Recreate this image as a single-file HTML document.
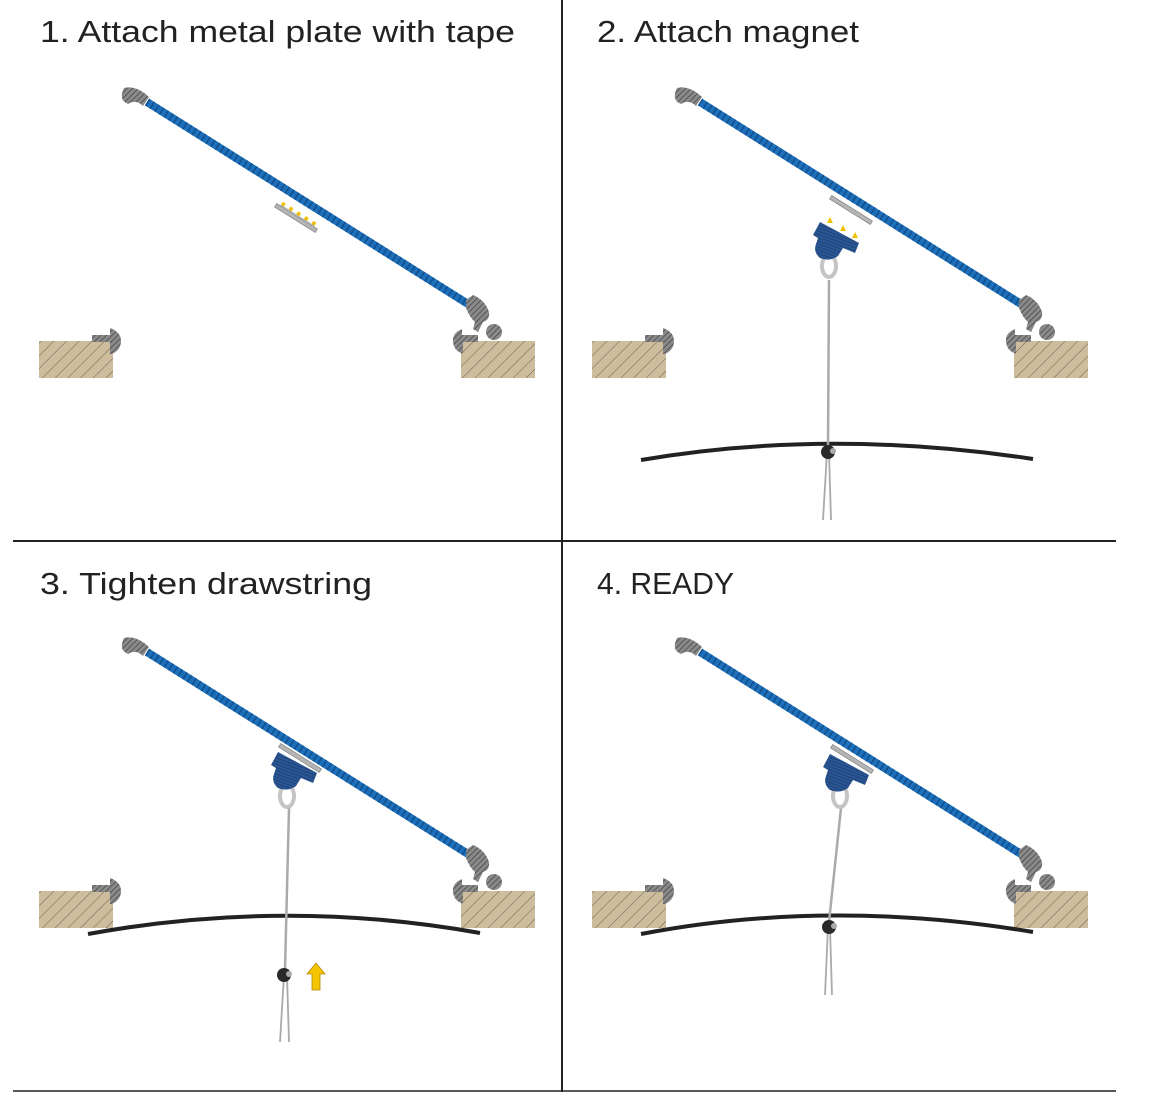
<!DOCTYPE html>
<html><head><meta charset="utf-8"><style>
html,body{margin:0;padding:0;background:#fff;width:1155px;height:1096px;overflow:hidden}
svg{display:block}
text{font-family:"Liberation Sans",sans-serif;fill:#222;font-size:31px}
</style></head><body>
<svg width="1155" height="1096" viewBox="0 0 1155 1096" xmlns="http://www.w3.org/2000/svg">
<defs>
<pattern id="hatch" width="9" height="9" patternUnits="userSpaceOnUse" patternTransform="rotate(45)">
<rect width="9" height="9" fill="#cdbd9d"/><line x1="0" y1="0" x2="0" y2="9" stroke="#6e6250" stroke-width="1"/>
</pattern>
<pattern id="ghatch" width="4" height="4" patternUnits="userSpaceOnUse" patternTransform="rotate(45)">
<rect width="4" height="4" fill="#8a8a8a"/><line x1="0" y1="0" x2="0" y2="4" stroke="#3a3a3a" stroke-width="1.3"/>
</pattern>
<pattern id="bhatch" width="3" height="3" patternUnits="userSpaceOnUse" patternTransform="rotate(20)">
<rect width="3" height="3" fill="#2a5593"/><line x1="0" y1="0" x2="3" y2="0" stroke="#173766" stroke-width="1"/>
</pattern>
<g id="scene">
  <rect x="39" y="341" width="74" height="37" fill="url(#hatch)"/>
  <rect x="461" y="341" width="74" height="37" fill="url(#hatch)"/>
  <path d="M92,335 L110,335 L110,328 Q121,332 121,341 Q121,350 112,354 L110,354 L110,342 L92,342 Z" fill="url(#ghatch)"/>
  <path d="M478,335 L462,335 L462,329 Q452,333 453,342 Q454,350 461,353 L463,353 L463,342 L478,342 Z" fill="url(#ghatch)"/>
  <line x1="147" y1="102" x2="468" y2="304" stroke="#1d6fba" stroke-width="8"/>
  <line x1="147" y1="102" x2="468" y2="304" stroke="#104f8c" stroke-width="8" stroke-dasharray="1.5 4"/>
  <path d="M124,88 Q136,85 149,97 L143,106 Q136,99 128,104 Q118,100 124,88 Z" fill="url(#ghatch)"/>
  <path d="M466,300 L473,295 Q485,300 489,312 Q490,320 483,322 L478,332 L473,329 L475,322 Q470,318 466,308 Z" fill="url(#ghatch)"/>
  <circle cx="494" cy="332" r="8" fill="url(#ghatch)"/>
</g>
<g id="plate">
  <rect x="-24" y="-2" width="48" height="4" fill="#b5b5b5" stroke="#8a8a8a" stroke-width="0.8"/>
</g>
<path id="magnet" d="M-18,-16 L21,5 L17,15 L5,10 L0,18 Q-8,24 -18,20 Q-25,14 -22,6 L-20,0 L-25,-3 Z" fill="url(#bhatch)"/>
</defs>

<line x1="562" y1="0" x2="562" y2="1092" stroke="#222" stroke-width="2"/>
<line x1="13" y1="541" x2="1116" y2="541" stroke="#222" stroke-width="2"/>
<line x1="13" y1="1091" x2="1116" y2="1091" stroke="#222" stroke-width="1.5"/>

<text x="40" y="42" textLength="475" lengthAdjust="spacingAndGlyphs">1. Attach metal plate with tape</text>
<text x="597" y="42" textLength="262" lengthAdjust="spacingAndGlyphs">2. Attach magnet</text>
<text x="40" y="594" textLength="332" lengthAdjust="spacingAndGlyphs">3. Tighten drawstring</text>
<text x="597" y="594" textLength="137" lengthAdjust="spacingAndGlyphs">4. READY</text>

<!-- Panel 1 -->
<use href="#scene"/>
<g transform="translate(296,218) rotate(32)">
  <use href="#plate"/>
  <g fill="#f2c200"><circle cx="-18" cy="-5" r="2"/><circle cx="-9" cy="-5" r="2"/><circle cx="0" cy="-5" r="2"/><circle cx="9" cy="-5" r="2"/><circle cx="18" cy="-5" r="2"/></g>
  <line x1="-20" y1="-3" x2="20" y2="-3" stroke="#999" stroke-width="0.6"/>
</g>

<!-- Panel 2 -->
<use href="#scene" transform="translate(553,0)"/>
<g transform="translate(851,210) rotate(32)"><use href="#plate"/></g>
<path d="M641,460 Q828,428 1033,459" fill="none" stroke="#222" stroke-width="4"/>
<line x1="829" y1="280" x2="828" y2="446" stroke="#aaa" stroke-width="2.5"/>
<ellipse cx="829" cy="266" rx="7" ry="11" fill="none" stroke="#c4c4c4" stroke-width="4"/>
<use href="#magnet" transform="translate(838,238)"/>
<g fill="#f2c200"><path d="M830,217 l-3,6 l6,0 z"/><path d="M843,225 l-3,6 l6,0 z"/><path d="M855,232 l-3,6 l6,0 z"/></g>
<line x1="827" y1="452" x2="823" y2="520" stroke="#aaa" stroke-width="1.8"/>
<line x1="829" y1="452" x2="831" y2="520" stroke="#aaa" stroke-width="1.8"/>
<circle cx="828" cy="452" r="7" fill="#2a2a2a"/><circle cx="833" cy="451" r="3" fill="#aaa"/>

<!-- Panel 3 -->
<use href="#scene" transform="translate(0,550)"/>
<path d="M88,934 Q285,898 480,933" fill="none" stroke="#222" stroke-width="4"/>
<line x1="289" y1="808" x2="285" y2="970" stroke="#aaa" stroke-width="2.5"/>
<ellipse cx="287" cy="796" rx="7" ry="11" fill="none" stroke="#c4c4c4" stroke-width="4"/>
<use href="#magnet" transform="translate(296,768)"/>
<g transform="translate(300,758) rotate(32)"><use href="#plate"/></g>
<line x1="284" y1="975" x2="280" y2="1042" stroke="#aaa" stroke-width="1.8"/>
<line x1="287" y1="975" x2="289" y2="1042" stroke="#aaa" stroke-width="1.8"/>
<circle cx="284" cy="975" r="7" fill="#2a2a2a"/><circle cx="289" cy="974" r="3" fill="#aaa"/>
<path d="M316,963 L325,974 L320,974 L320,990 L312,990 L312,974 L307,974 Z" fill="#f5c400" stroke="#b08a00" stroke-width="0.8"/>

<!-- Panel 4 -->
<use href="#scene" transform="translate(553,550)"/>
<path d="M641,934 Q829,898 1033,932" fill="none" stroke="#222" stroke-width="4"/>
<line x1="841" y1="808" x2="829" y2="922" stroke="#aaa" stroke-width="2.5"/>
<ellipse cx="840" cy="796" rx="7" ry="11" fill="none" stroke="#c4c4c4" stroke-width="4"/>
<use href="#magnet" transform="translate(848,770)"/>
<g transform="translate(852,759) rotate(32)"><use href="#plate"/></g>
<line x1="828" y1="927" x2="825" y2="995" stroke="#aaa" stroke-width="1.8"/>
<line x1="830" y1="927" x2="832" y2="995" stroke="#aaa" stroke-width="1.8"/>
<circle cx="829" cy="927" r="7" fill="#2a2a2a"/><circle cx="834" cy="926" r="3" fill="#aaa"/>
</svg>
</body></html>
